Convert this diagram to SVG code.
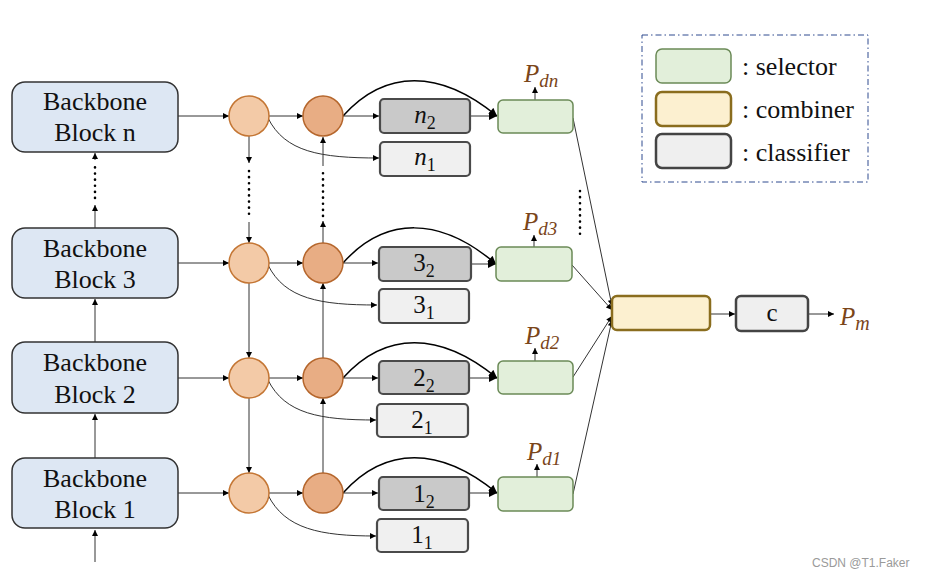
<svg xmlns="http://www.w3.org/2000/svg" width="932" height="578" viewBox="0 0 932 578">
<defs>
<marker id="ah" viewBox="0 0 10 10" refX="10" refY="5" markerWidth="9" markerHeight="8" markerUnits="userSpaceOnUse" orient="auto">
<path d="M0,0 L10,5 L0,10 z" fill="#000"/>
</marker>
<marker id="ahs" viewBox="0 0 10 10" refX="10" refY="5" markerWidth="7" markerHeight="6" markerUnits="userSpaceOnUse" orient="auto">
<path d="M0,0 L10,5 L0,10 z" fill="#000"/>
</marker>
</defs>
<style>
.bb{fill:#dde7f3;stroke:#333;stroke-width:1.5}
.bt{font-family:"Liberation Serif",serif;font-size:26px;fill:#111;text-anchor:middle}
.lc{fill:#f3caa7;stroke:#c47634;stroke-width:1.5}
.dc{fill:#e8ad84;stroke:#b5662c;stroke-width:1.5}
.g2{fill:#c9c9c9;stroke:#4a4a4a;stroke-width:2.2}
.g1{fill:#f0f0f0;stroke:#4a4a4a;stroke-width:2.2}
.sel{fill:#e2efda;stroke:#6b8a57;stroke-width:1.5}
.cmb{fill:#fcf0d0;stroke:#8a6d1e;stroke-width:2.5}
.cls{fill:#efefef;stroke:#444;stroke-width:2.5}
.mt{font-family:"Liberation Serif",serif;font-size:25px;fill:#111;text-anchor:middle}
.it{font-style:italic}
.sub{font-size:18px}
.pl{font-family:"Liberation Serif",serif;font-style:italic;font-size:25px;fill:#7a4519}
.ps{font-size:19px}
.ln{fill:none;stroke:#333;stroke-width:1}
.lk{fill:none;stroke:#000;stroke-width:1.5}
.dot{fill:none;stroke:#000;stroke-width:2.6;stroke-dasharray:0.1 6;stroke-linecap:round}
.lg{font-family:"Liberation Serif",serif;font-size:26px;fill:#111}
</style>
<rect width="932" height="578" fill="#fff"/>

<g id="connectors">
<line class="ln" x1="95" y1="562" x2="95" y2="530" marker-end="url(#ahs)"/>
<line class="ln" x1="95" y1="458" x2="95" y2="414" marker-end="url(#ahs)"/>
<line class="ln" x1="95" y1="342" x2="95" y2="299" marker-end="url(#ahs)"/>
<line class="ln" x1="95" y1="228" x2="95" y2="205" marker-end="url(#ahs)"/>
<line class="dot" x1="95" y1="198" x2="95" y2="166"/>
<line class="ln" x1="95" y1="160" x2="95" y2="153" marker-end="url(#ahs)"/>
<line class="ln" x1="178" y1="116" x2="229" y2="116" marker-end="url(#ahs)"/>
<line class="ln" x1="178" y1="263" x2="229" y2="263" marker-end="url(#ahs)"/>
<line class="ln" x1="178" y1="378" x2="229" y2="378" marker-end="url(#ahs)"/>
<line class="ln" x1="178" y1="493" x2="229" y2="493" marker-end="url(#ahs)"/>
<line class="ln" x1="269" y1="116" x2="303" y2="116" marker-end="url(#ahs)"/>
<line class="ln" x1="269" y1="263" x2="303" y2="263" marker-end="url(#ahs)"/>
<line class="ln" x1="269" y1="378" x2="303" y2="378" marker-end="url(#ahs)"/>
<line class="ln" x1="269" y1="493" x2="303" y2="493" marker-end="url(#ahs)"/>
<line class="ln" x1="249" y1="136" x2="249" y2="163" marker-end="url(#ahs)"/>
<line class="dot" x1="249" y1="171" x2="249" y2="217"/>
<line class="ln" x1="249" y1="222" x2="249" y2="243" marker-end="url(#ahs)"/>
<line class="ln" x1="249" y1="283" x2="249" y2="358" marker-end="url(#ahs)"/>
<line class="ln" x1="249" y1="398" x2="249" y2="473" marker-end="url(#ahs)"/>
<line class="ln" x1="323" y1="473" x2="323" y2="398" marker-end="url(#ahs)"/>
<line class="ln" x1="323" y1="358" x2="323" y2="283" marker-end="url(#ahs)"/>
<line class="ln" x1="323" y1="243" x2="323" y2="221" marker-end="url(#ahs)"/>
<line class="dot" x1="323" y1="216" x2="323" y2="170"/>
<line class="ln" x1="323" y1="166" x2="323" y2="137" marker-end="url(#ahs)"/>
<line class="ln" x1="343" y1="116" x2="379" y2="116" marker-end="url(#ahs)"/>
<line class="ln" x1="343" y1="263" x2="378" y2="263" marker-end="url(#ahs)"/>
<line class="ln" x1="343" y1="378" x2="378" y2="378" marker-end="url(#ahs)"/>
<line class="ln" x1="343" y1="493" x2="378" y2="493" marker-end="url(#ahs)"/>
<line class="ln" x1="470" y1="116" x2="497" y2="116" marker-end="url(#ah)"/>
<line class="ln" x1="471" y1="264" x2="496" y2="264" marker-end="url(#ah)"/>
<line class="ln" x1="469" y1="378" x2="497" y2="378" marker-end="url(#ah)"/>
<line class="ln" x1="469" y1="493" x2="497" y2="493" marker-end="url(#ah)"/>
<path class="lk" d="M343,116 C385,69 440,69 497,116" marker-end="url(#ah)"/>
<path class="lk" d="M343,263 C385,216 440,216 496,264" marker-end="url(#ah)"/>
<path class="lk" d="M343,378 C385,331 440,331 497,378" marker-end="url(#ah)"/>
<path class="lk" d="M343,493 C385,446 440,446 497,493" marker-end="url(#ah)"/>
<path class="ln" d="M268,118 C285,152 320,158 379,158" marker-end="url(#ahs)"/>
<path class="ln" d="M268,265 C285,299 320,305 377,305" marker-end="url(#ahs)"/>
<path class="ln" d="M268,380 C285,414 320,420 376,420" marker-end="url(#ahs)"/>
<path class="ln" d="M268,495 C285,529 320,536 376,536" marker-end="url(#ahs)"/>
<line class="ln" x1="535" y1="100" x2="535" y2="87" marker-end="url(#ahs)"/>
<line class="ln" x1="534" y1="247" x2="534" y2="235" marker-end="url(#ahs)"/>
<line class="ln" x1="535" y1="361" x2="535" y2="348" marker-end="url(#ahs)"/>
<line class="ln" x1="537" y1="477" x2="537" y2="464" marker-end="url(#ahs)"/>
<line class="dot" x1="580" y1="191" x2="580" y2="236"/>
<line class="ln" x1="573" y1="118" x2="612" y2="306" marker-end="url(#ahs)"/>
<line class="ln" x1="572" y1="265" x2="612" y2="310" marker-end="url(#ahs)"/>
<line class="ln" x1="573" y1="377" x2="612" y2="316" marker-end="url(#ahs)"/>
<line class="ln" x1="573" y1="494" x2="612" y2="320" marker-end="url(#ahs)"/>
<line class="ln" x1="711" y1="314" x2="735" y2="314" marker-end="url(#ahs)"/>
<line class="ln" x1="809" y1="314" x2="834" y2="314" marker-end="url(#ahs)"/>
</g>

<g id="block-n"><rect class="bb" x="12" y="82" width="166" height="70" rx="13"/><text class="bt" x="95" y="110">Backbone</text><text class="bt" x="95" y="141">Block n</text></g>
<g id="block-3"><rect class="bb" x="12" y="228" width="166" height="70" rx="13"/><text class="bt" x="95" y="257">Backbone</text><text class="bt" x="95" y="288">Block 3</text></g>
<g id="block-2"><rect class="bb" x="12" y="342" width="166" height="71" rx="13"/><text class="bt" x="95" y="371">Backbone</text><text class="bt" x="95" y="403">Block 2</text></g>
<g id="block-1"><rect class="bb" x="12" y="458" width="166" height="70" rx="13"/><text class="bt" x="95" y="487">Backbone</text><text class="bt" x="95" y="518">Block 1</text></g>

<g id="lc-n"><circle class="lc" cx="249" cy="116" r="20"/></g>
<g id="lc-3"><circle class="lc" cx="249" cy="263" r="20"/></g>
<g id="lc-2"><circle class="lc" cx="249" cy="378" r="20"/></g>
<g id="lc-1"><circle class="lc" cx="249" cy="493" r="20"/></g>
<g id="dc-n"><circle class="dc" cx="323" cy="116" r="20"/></g>
<g id="dc-3"><circle class="dc" cx="323" cy="263" r="20"/></g>
<g id="dc-2"><circle class="dc" cx="323" cy="378" r="20"/></g>
<g id="dc-1"><circle class="dc" cx="323" cy="493" r="20"/></g>

<g id="cls-n2"><rect class="g2" x="380" y="99" width="90" height="34" rx="4"/><text class="mt" x="425" y="123"><tspan class="it">n</tspan><tspan class="sub" dy="6">2</tspan></text></g>
<g id="cls-n1"><rect class="g1" x="380" y="142" width="90" height="34" rx="4"/><text class="mt" x="425" y="165"><tspan class="it">n</tspan><tspan class="sub" dy="6">1</tspan></text></g>
<g id="cls-32"><rect class="g2" x="379" y="247" width="92" height="34" rx="4"/><text class="mt" x="424" y="271">3<tspan class="sub" dy="6">2</tspan></text></g>
<g id="cls-31"><rect class="g1" x="379" y="289" width="90" height="34" rx="4"/><text class="mt" x="424" y="313">3<tspan class="sub" dy="6">1</tspan></text></g>
<g id="cls-22"><rect class="g2" x="379" y="361" width="90" height="33" rx="4"/><text class="mt" x="424" y="386">2<tspan class="sub" dy="6">2</tspan></text></g>
<g id="cls-21"><rect class="g1" x="377" y="404" width="91" height="33" rx="4"/><text class="mt" x="422" y="428">2<tspan class="sub" dy="6">1</tspan></text></g>
<g id="cls-12"><rect class="g2" x="379" y="477" width="90" height="33" rx="4"/><text class="mt" x="424" y="502">1<tspan class="sub" dy="6">2</tspan></text></g>
<g id="cls-11"><rect class="g1" x="377" y="519" width="91" height="33" rx="4"/><text class="mt" x="422" y="543">1<tspan class="sub" dy="6">1</tspan></text></g>

<g id="sel-n"><rect class="sel" x="498" y="100" width="75" height="33" rx="5"/><text class="pl" x="524" y="82">P<tspan class="ps" dy="5">dn</tspan></text></g>
<g id="sel-3"><rect class="sel" x="496" y="247" width="76" height="34" rx="5"/><text class="pl" x="523" y="230">P<tspan class="ps" dy="5">d3</tspan></text></g>
<g id="sel-2"><rect class="sel" x="498" y="361" width="75" height="33" rx="5"/><text class="pl" x="525" y="344">P<tspan class="ps" dy="5">d2</tspan></text></g>
<g id="sel-1"><rect class="sel" x="498" y="477" width="75" height="34" rx="5"/><text class="pl" x="527" y="460">P<tspan class="ps" dy="5">d1</tspan></text></g>

<g id="combiner"><rect class="cmb" x="612" y="296" width="98" height="34" rx="5"/></g>
<g id="classifier-c"><rect class="cls" x="736" y="296" width="72" height="35" rx="5"/><text class="mt" x="772" y="321">c</text></g>
<g id="pm"><text class="pl" x="840" y="325" font-size="27">P<tspan font-size="20" dy="5">m</tspan></text></g>

<g id="legend">
<rect x="642" y="35" width="226" height="147" fill="none" stroke="#2e4a8f" stroke-width="1" stroke-dasharray="6 3 1.5 3"/>
<rect class="sel" x="656" y="49" width="75" height="34" rx="6"/>
<text class="lg" x="742" y="75">: selector</text>
<rect class="cmb" x="656" y="92" width="75" height="34" rx="6"/>
<text class="lg" x="742" y="118">: combiner</text>
<rect class="cls" x="656" y="134" width="75" height="34" rx="6"/>
<text class="lg" x="742" y="161">: classifier</text>
</g>

<text x="812" y="567" font-family="Liberation Sans, sans-serif" font-size="12" fill="#9a9a9a">CSDN @T1.Faker</text>
</svg>
